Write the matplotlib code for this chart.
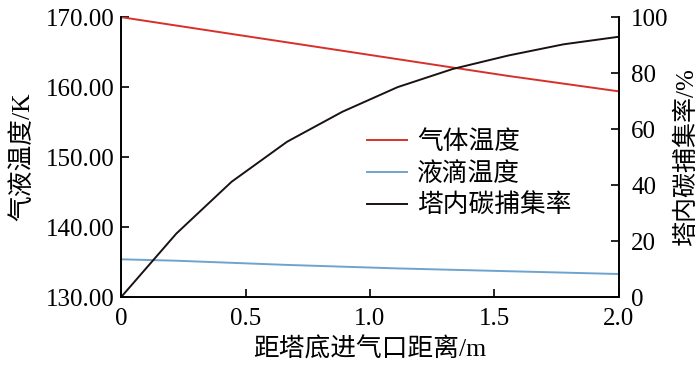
import numpy as np
import matplotlib
matplotlib.use("Agg")
import matplotlib.pyplot as plt

plt.rcParams['font.family'] = ['Liberation Serif', 'Noto Sans CJK SC']

# distance from the tower bottom inlet (m)
dist = [0, 0.222, 0.444, 0.667, 0.889, 1.111, 1.333, 1.556, 1.778, 2.0]
# gas temperature (K)
gasTemp = [170.0, 168.8, 167.6, 166.4, 165.2, 164.0, 162.8, 161.6, 160.5, 159.4]
# droplet temperature (K)
dropTemp = [135.4, 135.2, 134.9, 134.6, 134.35, 134.1, 133.9, 133.7, 133.5, 133.3]
# carbon capture rate in tower (%)
capture = [0, 22.7, 41.2, 55.5, 66.2, 75.0, 81.5, 86.3, 90.3, 93.0]

xticks = [0, 0.5, 1.0, 1.5, 2.0]
xticklabels = ["0", "0.5", "1.0", "1.5", "2.0"]
yticks = [130, 140, 150, 160, 170]
y2ticks = [0, 20, 40, 60, 80, 100]

fig = plt.figure(figsize=(7, 3.65), dpi=100)
ax = fig.add_axes([0.173, 0.186, 0.711, 0.767])
ax2 = ax.twinx()

l1, = ax.plot(dist, gasTemp, color="#d7302a", lw=1.4, label="气体温度")
l2, = ax.plot(dist, dropTemp, color="#6fa3cf", lw=1.4, label="液滴温度")
l3, = ax2.plot(dist, capture, color="#1a1212", lw=1.4, label="塔内碳捕集率")

ax.set_xlim(0, 2.0)
ax.set_ylim(130, 170)
ax2.set_ylim(0, 100)

ax.set_xticks(xticks)
ax.set_xticklabels(xticklabels)
ax.set_yticks(yticks)
ax.set_yticklabels(["%.2f" % v for v in yticks])
ax2.set_yticks(y2ticks)

for a in (ax, ax2):
    a.spines['top'].set_visible(False)
    a.spines['left'].set_linewidth(1.2)
    a.spines['right'].set_linewidth(1.2)
    a.spines['bottom'].set_linewidth(1.2)
    a.tick_params(direction="in", length=6, width=1.2, labelsize=18)
ax.tick_params(axis="x", pad=7.5)
ax.tick_params(axis="y", pad=5)
ax2.tick_params(axis="y", pad=9)

ax.set_xlabel("距塔底进气口距离/m", fontsize=18.5, labelpad=6)
ax.set_ylabel("气液温度/K", fontsize=18.5, labelpad=8)
ax2.set_ylabel("塔内碳捕集率/%", fontsize=18, labelpad=4)

ax.legend(handles=[l1, l2, l3], loc="center left", bbox_to_anchor=(0.468, 0.44),
          frameon=False, fontsize=18.5, borderpad=0, handlelength=1.55,
          handletextpad=0.4, labelspacing=0.3)

fig.savefig("out.png", dpi=100)
